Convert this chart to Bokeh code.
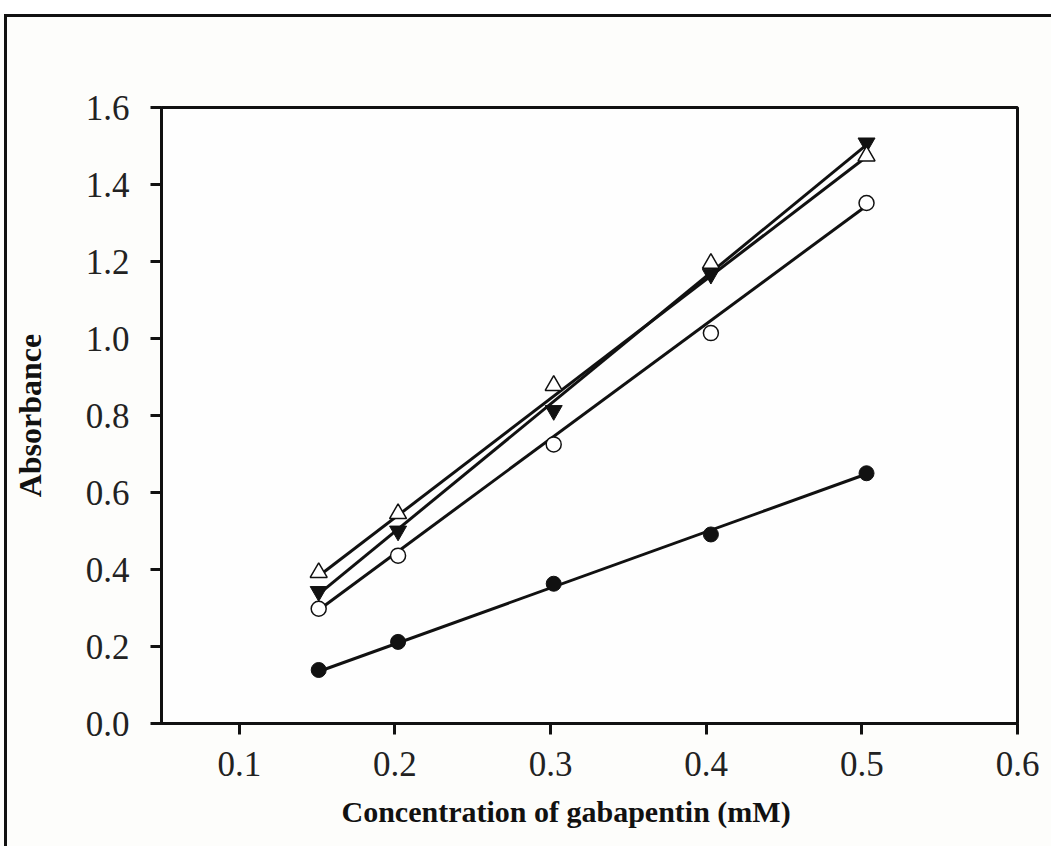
from bokeh.plotting import figure
from bokeh.models import FixedTicker, Title
from bokeh.embed import file_html
from bokeh.resources import INLINE

# Data
conc = [0.151, 0.202, 0.302, 0.403, 0.503]
filled_circle = [0.139, 0.212, 0.363, 0.491, 0.650]
open_circle = [0.298, 0.436, 0.725, 1.014, 1.352]
filled_tri_down = [0.343, 0.500, 0.813, 1.167, 1.508]
open_tri_up = [0.392, 0.545, 0.878, 1.195, 1.474]

# Fitted-line end points (first and last concentration)
fit_x = [0.151, 0.503]
fit_filled_circle = [0.135, 0.648]
fit_open_circle = [0.295, 1.345]
fit_filled_tri_down = [0.336, 1.503]
fit_open_tri_up = [0.383, 1.472]

x_ticks = [0.1, 0.2, 0.3, 0.4, 0.5, 0.6]
y_ticks = [0.0, 0.2, 0.4, 0.6, 0.8, 1.0, 1.2, 1.4, 1.6]
x_title = "Concentration of gabapentin (mM)"
y_title = "Absorbance"

FONT = "Liberation Serif"

p = figure(width=1051, height=846, x_range=(0.05, 0.6), y_range=(0.0, 1.6),
           output_backend="svg", toolbar_location=None,
           min_border_left=161, min_border_right=34, min_border_top=107, min_border_bottom=123)
p.background_fill_color = "#fefefe"
p.border_fill_alpha = 0.0
p.styles = {
    "background": ("linear-gradient(#111,#111) 4px 14px / 3px 100% no-repeat, "
                   "linear-gradient(#111,#111) 4px 14px / 100% 3px no-repeat, "
                   "linear-gradient(#fff,#fff) 0 0 / 100% 14px no-repeat, #fdfdfb"),
}
p.grid.visible = False
p.outline_line_color = "#111111"
p.outline_line_width = 3

for ax in (p.xaxis[0], p.yaxis[0]):
    ax.axis_line_width = 3
    ax.axis_line_color = "#111111"
    ax.major_tick_line_width = 3
    ax.major_tick_line_color = "#111111"
    ax.major_tick_out = 11
    ax.major_tick_in = 0
    ax.minor_tick_out = 0
    ax.minor_tick_in = 0
    ax.major_label_text_font = FONT
    ax.major_label_text_font_size = "35px"
    ax.major_label_text_color = "#222222"

p.xaxis.ticker = FixedTicker(ticks=x_ticks)
p.yaxis.ticker = FixedTicker(ticks=y_ticks)
p.xaxis.major_label_overrides = {t: f"{t:.1f}" for t in x_ticks}
p.yaxis.major_label_overrides = {t: f"{t:.1f}" for t in y_ticks}
p.xaxis.major_label_standoff = 17
p.yaxis.major_label_standoff = 21

p.yaxis.axis_label = y_title
p.yaxis.axis_label_text_font = FONT
p.yaxis.axis_label_text_font_style = "bold"
p.yaxis.axis_label_text_color = "#111111"
p.yaxis.axis_label_text_font_size = "32px"
p.yaxis.axis_label_standoff = 35

p.add_layout(Title(text=x_title, align="left", offset=180, standoff=28,
                   text_font=FONT, text_font_style="bold", text_font_size="30px",
                   text_color="#111111"), "below")

for fy in (fit_filled_circle, fit_open_circle, fit_filled_tri_down, fit_open_tri_up):
    p.line(fit_x, fy, line_color="#111111", line_width=3)

p.scatter(conc, filled_circle, marker="circle", size=15, fill_color="#111111", line_color="#111111")
p.scatter(conc, open_circle, marker="circle", size=15, fill_color="white", line_color="#111111", line_width=1.5)
p.scatter(conc, filled_tri_down, marker="inverted_triangle", size=17, fill_color="#111111", line_color="#111111")
p.scatter(conc, open_tri_up, marker="triangle", size=17, fill_color="white", line_color="#111111", line_width=1.5)

open("out.html", "w").write(file_html(p, INLINE))
